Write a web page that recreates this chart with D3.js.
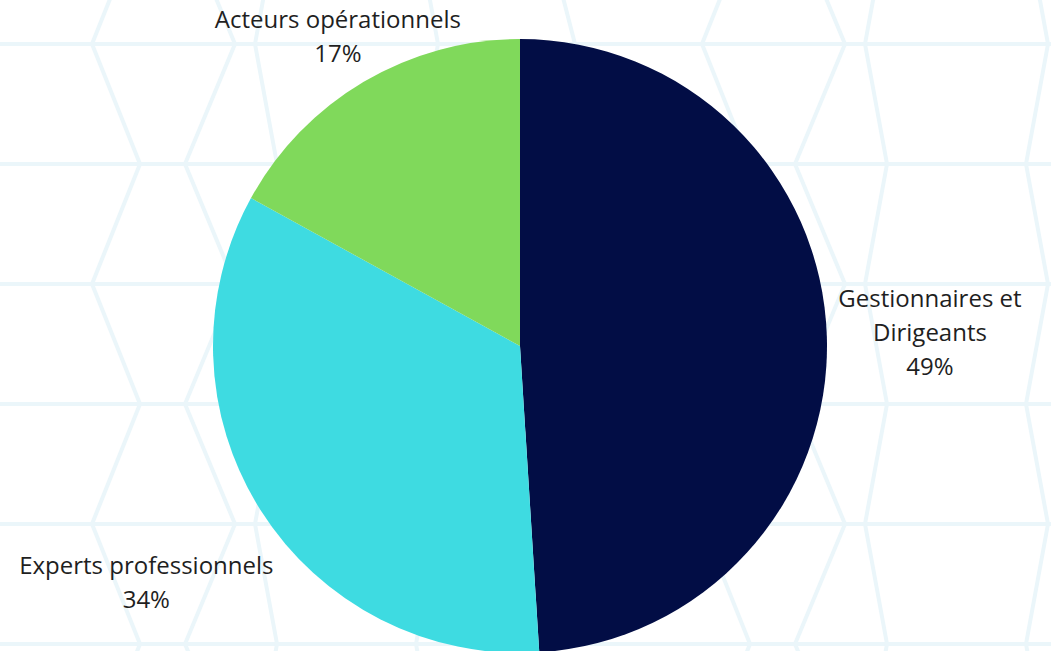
<!DOCTYPE html>
<html>
<head>
<meta charset="utf-8">
<script src="https://cdn.jsdelivr.net/npm/d3@7"></script>
<style>
  html, body { margin: 0; padding: 0; background: #fff; }
  svg { display: block; }
  .label { font-family: "Open Sans", sans-serif; font-size: 24px; fill: #1f1f1f; }
</style>
</head>
<body>
<div id="chart-container"></div>
<script>
// Data
const categories = ["Gestionnaires et Dirigeants", "Experts professionnels", "Acteurs opérationnels"];
const shares = [49, 34, 17];
const sliceColors = ["#020D45", "#3EDBE1", "#80D95B"];

const width = 1051;
const height = 651;

const svg = d3
  .select("#chart-container")
  .append("svg")
  .attr("width", width)
  .attr("height", height);

// Background pattern (decorative zigzag grid)
const bg = svg.append("g").attr("class", "background");
const rowStep = 120;
const rowStart = 44;
const tileWidth = 610;
const columns = [[92, 140], [235, 185], [255, 277], [438, 416], [575, 544]];
const lineColor = "#ebf6fa";

for (let y = rowStart - rowStep; y <= height + rowStep; y += rowStep) {
  bg.append("line")
    .attr("x1", 0).attr("x2", width)
    .attr("y1", y).attr("y2", y)
    .attr("stroke", lineColor)
    .attr("stroke-width", 4);
}

for (let t = -1; t <= 2; t++) {
  columns.forEach(([xa, xb]) => {
    const pts = [];
    let k = 0;
    for (let y = rowStart - rowStep; y <= height + rowStep; y += rowStep, k++) {
      pts.push([t * tileWidth + (k % 2 === 0 ? xb : xa), y]);
    }
    bg.append("path")
      .attr("d", d3.line()(pts))
      .attr("fill", "none")
      .attr("stroke", lineColor)
      .attr("stroke-width", 4)
      .attr("stroke-linejoin", "round");
  });
}

// Pie
const cx = 520;
const cy = 346;
const radius = 307;

const data = categories.map((name, i) => ({ name, value: shares[i], color: sliceColors[i] }));

const pie = d3.pie().sort(null).value((d) => d.value);
const arc = d3.arc().innerRadius(0).outerRadius(radius);

const chartGroup = svg.append("g").attr("transform", `translate(${cx},${cy})`);

const arcs = pie(data);

chartGroup
  .selectAll("path.slice")
  .data(arcs)
  .join("path")
  .attr("class", "slice")
  .attr("d", arc)
  .attr("fill", (d) => d.data.color);

// Labels outside the pie
const lineHeight = 34;
const maxLabelWidth = 270;
const pad = 10;
const edge = 4;

function wrapWords(textSel, words) {
  const lines = [];
  let current = [];
  words.forEach((w) => {
    const attempt = current.concat([w]).join(" ");
    textSel.text(attempt);
    if (textSel.node().getComputedTextLength() > maxLabelWidth && current.length) {
      lines.push(current.join(" "));
      current = [w];
    } else {
      current.push(w);
    }
  });
  if (current.length) lines.push(current.join(" "));
  textSel.text("");
  return lines;
}

const labelLayer = svg.append("g");

arcs.forEach((d) => {
  const text = labelLayer.append("text").attr("class", "label").attr("text-anchor", "middle");
  const lines = wrapWords(text, d.data.name.split(" "));
  lines.push(`${d.data.value}%`);

  lines.forEach((l, i) => {
    text.append("tspan").attr("x", 0).attr("dy", i === 0 ? 0 : lineHeight).text(l);
  });

  const bb = text.node().getBBox();
  const hw = bb.width / 2;
  const hh = (lines.length * lineHeight) / 2;

  const mid = (d.startAngle + d.endAngle) / 2;
  const ux = Math.sin(mid);
  const uy = -Math.cos(mid);

  let dist = radius + pad + Math.abs(ux) * hw + Math.abs(uy) * hh;
  let px = cx + ux * dist;
  let py = cy + uy * dist;

  // keep the block inside the canvas, moving it back along the radius
  if (py - hh < edge && uy < 0) {
    dist = (cy - hh - edge) / -uy;
  } else if (py + hh > height - edge && uy > 0) {
    dist = (height - edge - hh - cy) / uy;
  }
  px = cx + ux * dist;
  py = cy + uy * dist;

  // first baseline: block top + ascent approx
  const firstBaseline = py - hh + lineHeight * 0.72;
  text.attr("transform", `translate(${px},${firstBaseline})`);
});
</script>
</body>
</html>
